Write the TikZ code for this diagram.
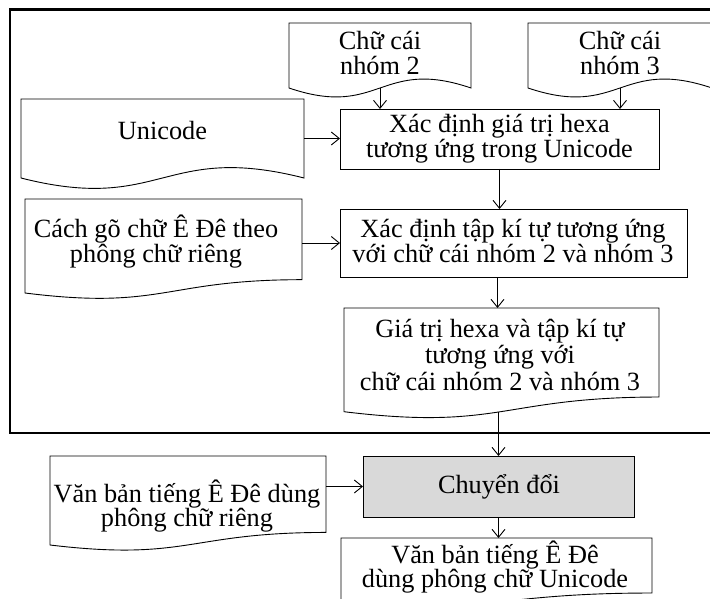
\documentclass[tikz,border=0pt]{standalone}
\usepackage{fontspec}
\setmainfont{Liberation Serif}
\usetikzlibrary{arrows.meta,calc}
\lineskiplimit=-30pt
% S-shaped wave document: #1 node name, #2 wave depth
\newcommand\drawdocA[2]{%
  \draw[ln] (#1.south west) -- (#1.north west) -- (#1.north east) -- (#1.south east)
    .. controls ($(#1.south)+(0,-#2)$) and ($(#1.south)+(0,#2)$) .. (#1.south west) -- cycle;}
% flowchart document: #1 node name, #2 full height h
\newcommand\drawdocB[2]{%
  \draw[ln] (#1.south west) -- (#1.north west) -- (#1.north east) -- ($(#1.north east)+(0,0.802*#2)$)
    .. controls ($(#1.north)+(0,0.802*#2)$) and ($(#1.north)+(0,1.107*#2)$) .. (#1.south west) -- cycle;}
\begin{document}
\begin{tikzpicture}[x=1pt,y=-1pt,
  ln/.style={line width=0.9pt},
  shp/.style={draw=none, inner sep=0pt, outer sep=0pt},
  box/.style={draw, line width=0.9pt, inner sep=0pt, outer sep=0pt},
  txt/.style={text width=400pt, align=flush center, inner sep=0pt, anchor=base,
    font=\fontsize{26.3}{24.5}\selectfont},
  arr/.style={line width=0.9pt, -{Straight Barb[length=8pt,width=13pt]}},
]
\useasboundingbox (0,0) rectangle (710,599);
\clip (0,0) rectangle (710,599);

% outer frame
\draw[line width=2.2pt] (10,9.5) rectangle (730,433);

% shape nodes
\node[shp, minimum width=182pt, minimum height=65pt] (d2) at (380,55.5) {};
\node[shp, minimum width=184pt, minimum height=65pt] (d3) at (620,55.5) {};
\node[shp, minimum width=283pt, minimum height=79pt] (uni) at (162.5,138.5) {};
\node[box, minimum width=319pt, minimum height=60pt] (b1) at (499.5,139) {};
\node[shp, minimum width=277pt, minimum height=94pt] (cg) at (163.5,246) {};
\node[box, minimum width=347pt, minimum height=68pt] (b2) at (513.5,243) {};
\node[shp, minimum width=315pt, minimum height=103.7pt] (gt) at (501.5,359.85) {};
\node[shp, minimum width=276pt, minimum height=89pt] (vb) at (188,500.5) {};
\node[box, fill={rgb,255:red,217;green,217;blue,217}, minimum width=271pt, minimum height=61pt] (conv) at (498.5,486.5) {};
\node[shp, minimum width=311pt, minimum height=64pt] (fin) at (496.5,570) {};

\drawdocA{d2}{31}
\drawdocA{d3}{31}
\drawdocA{uni}{36}
\drawdocB{cg}{100.6}
\drawdocB{gt}{111}
\drawdocB{vb}{95.3}
\drawdocB{fin}{68.6}

% texts
\node[txt] (td2) at (380,50) {Chữ cái\\nhóm 2};
\node[txt] (td3) at (620,50) {Chữ cái\\nhóm 3};
\node[txt] (tuni) at (162.5,140) {Unicode};
\node[txt, font=\fontsize{26.3}{25}\selectfont] (tb1) at (499.5,133) {Xác định giá trị hexa\\tương ứng trong Unicode};
\node[txt, font=\fontsize{26.3}{25}\selectfont] (tcg) at (156,237) {Cách gõ chữ Ê Đê theo\\phông chữ riêng};
\node[txt, font=\fontsize{26.3}{25}\selectfont] (tb2) at (513,237) {Xác định tập kí tự tương ứng\\với chữ cái nhóm 2 và nhóm 3};
\node[txt, font=\fontsize{26.3}{26.5}\selectfont] (tgt) at (500,337) {Giá trị hexa và tập kí tự\\tương ứng với\\chữ cái nhóm 2 và nhóm 3};
\node[txt] (tvb) at (187,502) {Văn bản tiếng Ê Đê dùng\\phông chữ riêng};
\node[txt] (tconv) at (499,493) {Chuyển đổi};
\node[txt] (tfin) at (495,563) {Văn bản tiếng Ê Đê\\dùng phông chữ Unicode};

% connectors
\draw[arr] (d2.south) -- (d2.south |- b1.north);
\draw[arr] (d3.south) -- (d3.south |- b1.north);
\draw[arr] (uni.east) -- (uni.east -| b1.west);
\draw[arr] (b1.south) -- (b1.south |- b2.north);
\draw[arr] (cg.east |- b2.west) -- (b2.west);
\draw[arr] ([xshift=-4pt]gt.north |- b2.south) -- ([xshift=-4pt]gt.north);
\draw[arr] (conv.north |- gt.south) -- (conv.north);
\draw[arr] (vb.east |- conv.west) -- (conv.west);
\draw[arr] (conv.south) -- (conv.south |- fin.north);
\end{tikzpicture}
\end{document}
